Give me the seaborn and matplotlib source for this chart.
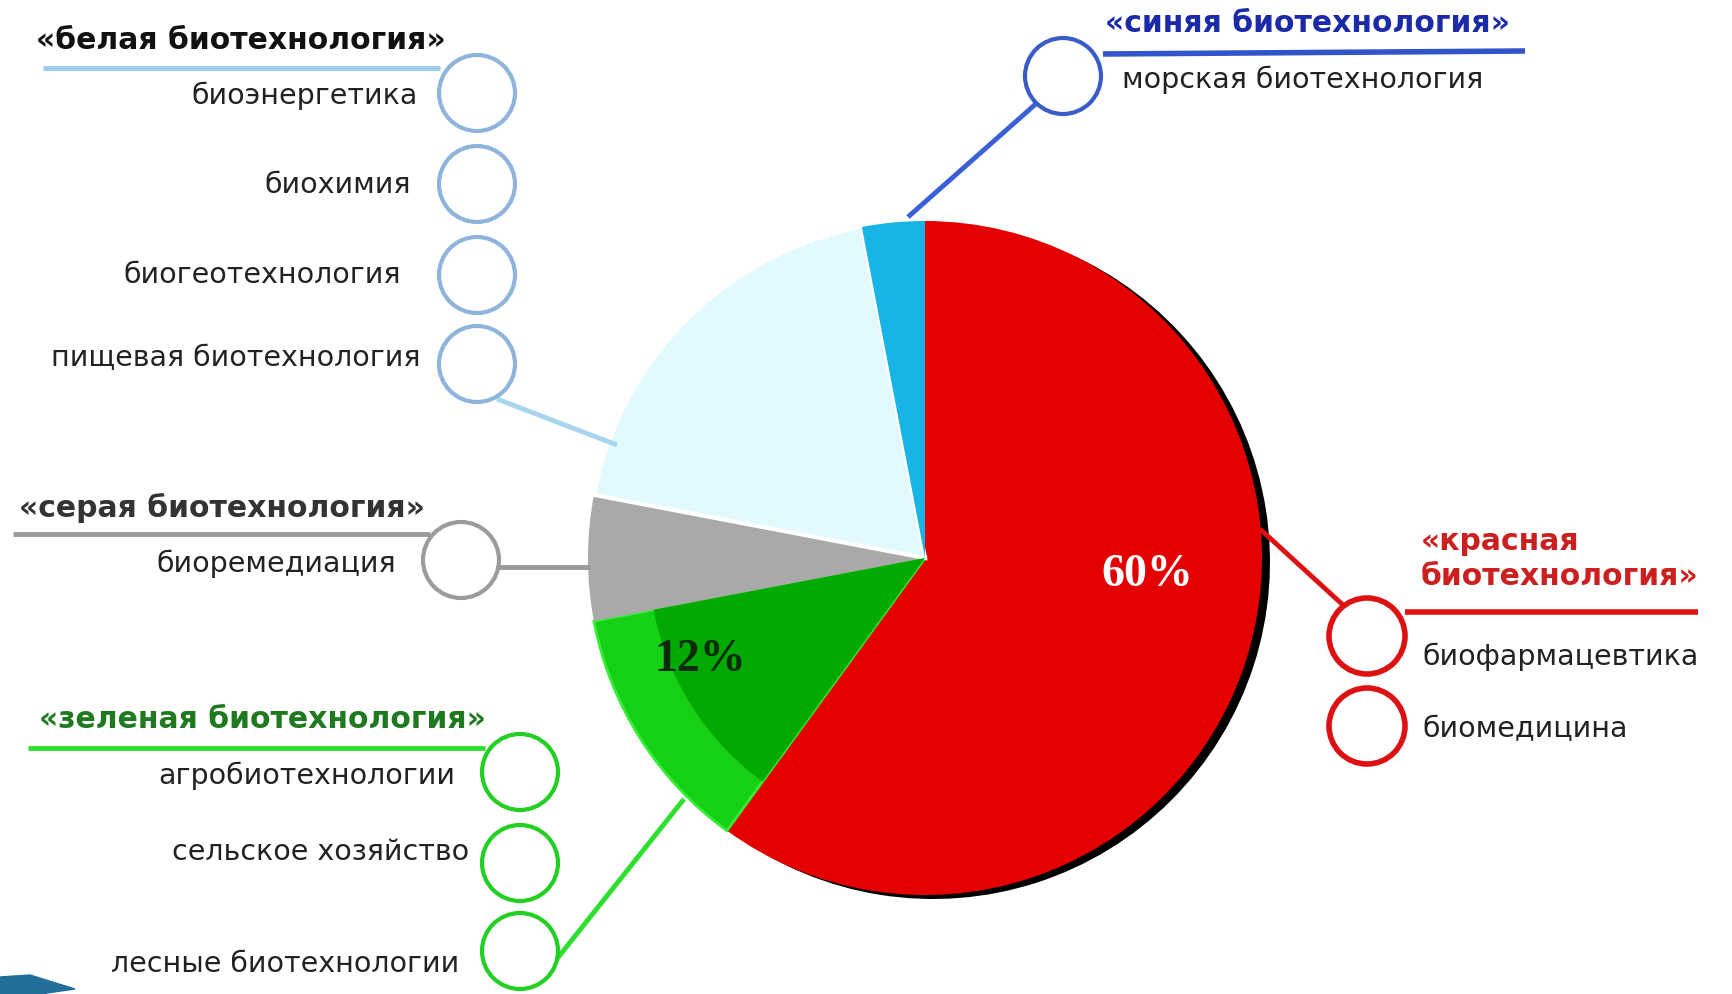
import matplotlib
matplotlib.use("Agg")
import matplotlib.pyplot as plt
from matplotlib.patches import Circle
import seaborn as sns

# slices, clockwise from 12 o'clock
slice_names = ["красная", "зеленая", "серая", "белая", "синяя"]
slice_shares = [60, 12, 6, 19, 3]
slice_colors = ["#e40000", "#16d016", "#a9a9a9", "#e2f9fd", "#17b4e6"]
shown_pct = ["60%", "12%", "", "", ""]

# groups: header text and sub-items
white_header = "«белая биотехнология»"
white_items = ["биоэнергетика", "биохимия", "биогеотехнология", "пищевая биотехнология"]
grey_header = "«серая биотехнология»"
grey_items = ["биоремедиация"]
green_header = "«зеленая биотехнология»"
green_items = ["агробиотехнологии", "сельское хозяйство", "лесные биотехнологии"]
blue_header = "«синяя биотехнология»"
blue_items = ["морская биотехнология"]
red_header = "«красная\nбиотехнология»"
red_items = ["биофармацевтика", "биомедицина"]

W, H = 1733, 995


def Y(y):
    return H - y


sns.set_theme(style="white")
plt.rcParams['font.family'] = ['DejaVu Sans']

fig = plt.figure(figsize=(17.33, 9.95), dpi=100)
ax = fig.add_axes([0, 0, 1, 1])

cx, cy, R = 925, 559, 337

# shadow behind the red slice
ax.pie(slice_shares, colors=["black", "none", "none", "none", "none"],
       startangle=90, counterclock=False, center=(cx + 8, Y(cy) - 4), radius=R,
       frame=True, wedgeprops=dict(linewidth=0))
wedges, _ = ax.pie(slice_shares, colors=slice_colors, startangle=90, counterclock=False,
                   center=(cx, Y(cy)), radius=R, frame=True,
                   wedgeprops=dict(linewidth=0))
wedges[3].set_edgecolor("white")
wedges[3].set_linewidth(3)
wedges[1].set_edgecolor("#33ee33")
wedges[1].set_linewidth(2)

# darker inner zone of the green slice
ax.pie(slice_shares, colors=["none", "#00aa00", "none", "none", "none"],
       startangle=90, counterclock=False, center=(cx, Y(cy)), radius=R * 0.82,
       frame=True, wedgeprops=dict(linewidth=0))

ax.text(1147, Y(575), shown_pct[0], color="white", fontsize=33, fontweight="bold",
        family="Liberation Serif", ha="center", va="center")
ax.text(700, Y(660), shown_pct[1], color="#0a2a0a", fontsize=33, fontweight="bold",
        family="Liberation Serif", ha="center", va="center")

ax.set_xlim(0, W)
ax.set_ylim(0, H)
ax.set_aspect("equal")
ax.axis("off")


def ring(x, y, color, lw=3):
    ax.add_patch(Circle((x, Y(y)), 38, facecolor="white", edgecolor=color,
                        linewidth=lw, zorder=4))


def line(x0, y0, x1, y1, color, lw=3.5):
    ax.plot([x0, x1], [Y(y0), Y(y1)], color=color, linewidth=lw,
            solid_capstyle="butt", zorder=3)


hsize, tsize = 21.5, 20.5

# white group
c_white = "#8fb4dc"
ax.text(36, Y(41), white_header, fontsize=hsize, fontweight="bold", color="#111111", va="center")
line(43, 69, 440, 69, "#9ccbed")
line(497, 400, 617, 446, "#a8d4f0")
for item, y in zip(white_items, [94, 185, 276, 365]):
    ring(477, y, c_white)
for item, (xr, y) in zip(white_items, [(418, 96), (411, 185), (401, 275), (421, 358)]):
    ax.text(xr, Y(y), item, fontsize=tsize, color="#222222", ha="right", va="center")

# grey group
ax.text(19, Y(508), grey_header, fontsize=hsize, fontweight="bold", color="#333333", va="center")
line(13, 535, 430, 535, "#9a9a9a")
line(499, 568, 590, 568, "#999999")
ring(461, 561, "#9b9b9b")
ax.text(396, Y(564), grey_items[0], fontsize=tsize, color="#222222", ha="right", va="center")

# green group
c_green = "#22d022"
ax.text(39, Y(720), green_header, fontsize=hsize, fontweight="bold", color="#1f7a1f", va="center")
line(28, 749, 485, 749, "#2ee02e")
line(556, 961, 684, 800, "#2ee02e")
for y in [773, 864, 952]:
    ring(520, y, c_green)
for item, (xr, y) in zip(green_items, [(455, 776), (469, 852), (459, 964)]):
    ax.text(xr, Y(y), item, fontsize=tsize, color="#222222", ha="right", va="center")

# blue group
ax.text(1105, Y(24), blue_header, fontsize=hsize, fontweight="bold", color="#1a2aa8", va="center")
line(1103, 55, 1525, 52, "#3355cc", lw=4)
line(1038, 103, 908, 218, "#3b5fd6")
ring(1063, 77, "#3a5cc8")
ax.text(1122, Y(80), blue_items[0], fontsize=tsize, color="#222222", va="center")

# red group
c_red = "#dd1111"
ax.text(1421, Y(559), red_header, fontsize=hsize, fontweight="bold", color="#cc2020",
        va="center", linespacing=1.3)
line(1405, 613, 1698, 613, c_red, lw=4)
line(1260, 530, 1343, 606, c_red)
for y in [637, 727]:
    ring(1367, y, c_red, lw=4)
for item, y in zip(red_items, [657, 729]):
    ax.text(1422, Y(y), item, fontsize=tsize, color="#222222", va="center")

# slide corner swoosh
ax.fill([0, 0, 30, 75, 40], [Y(995), Y(978), Y(976), Y(990), Y(995)], color="#1f6f9a", zorder=1)

fig.savefig("out.png", dpi=100)
